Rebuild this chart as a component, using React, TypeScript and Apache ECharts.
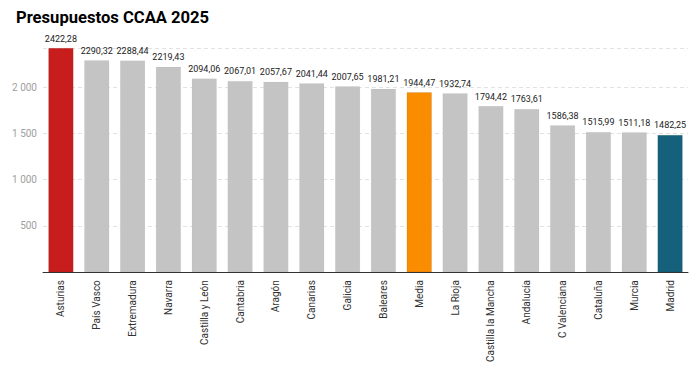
import React, { useEffect, useRef } from "react";
import * as echarts from "echarts";

const categories = [
  "Asturias", "País Vasco", "Extremadura", "Navarra", "Castilla y León", "Cantabria",
  "Aragón", "Canarias", "Galicia", "Baleares", "Media", "La Rioja",
  "Castilla la Mancha", "Andalucía", "C Valenciana", "Cataluña", "Murcia", "Madrid",
];
const values = [
  2422.28, 2290.32, 2288.44, 2219.43, 2094.06, 2067.01, 2057.67, 2041.44, 2007.65,
  1981.21, 1944.47, 1932.74, 1794.42, 1763.61, 1586.38, 1515.99, 1511.18, 1482.25,
];
const highlight: Record<string, string> = {
  Asturias: "#c71e1d",
  Media: "#fa8c00",
  Madrid: "#15607a",
};
const baseColor = "#c4c4c4";
const yTicks = [500, 1000, 1500, 2000];

const fmtNum = (v: number) => {
  const s = v.toFixed(0);
  return s.replace(/\B(?=(\d{3})+(?!\d))/g, " ");
};
const fmtVal = (v: number) => v.toFixed(2).replace(".", ",");

export default function App() {
  const ref = useRef<HTMLDivElement>(null);
  useEffect(() => {
    if (!ref.current) return;
    const chart = echarts.init(ref.current, undefined, { renderer: "svg" });
    chart.setOption({
      animation: false,
      title: {
        text: "Presupuestos CCAA 2025",
        left: 8,
        top: 1,
        padding: 0,
        textStyle: {
          fontFamily: "Roboto",
          fontWeight: "bold",
          fontSize: 16.6,
          color: "#000",
        },
      },
      grid: { left: 35, right: 4, top: 40, bottom: 92, containLabel: false },
      xAxis: {
        type: "category",
        data: categories,
        axisLine: { lineStyle: { color: "#333", width: 1 } },
        axisTick: { alignWithLabel: true, length: 3, lineStyle: { color: "#333" } },
        axisLabel: {
          rotate: 90,
          interval: 0,
          fontFamily: "Roboto",
          fontSize: 10,
          color: "#333",
          margin: 8,
        },
      },
      yAxis: {
        type: "value",
        min: 0,
        max: 2422.28,
        interval: 500,
        axisLine: { show: false },
        axisTick: { show: false },
        splitLine: {
          lineStyle: { color: "#e2e2e2", type: [4, 3], width: 1 },
        },
        axisLabel: {
          fontFamily: "Roboto",
          fontSize: 10,
          color: "#a0a0a0",
          margin: 6,
          formatter: (v: number) => (yTicks.includes(v) ? fmtNum(v) : ""),
        },
      },
      series: [
        {
          type: "bar",
          barCategoryGap: "30%",
          data: categories.map((c, i) => ({
            value: values[i],
            itemStyle: {
              color: highlight[c] || baseColor,
              borderColor: highlight[c] ? "rgba(0,0,0,0.15)" : "rgba(0,0,0,0.05)",
              borderWidth: 0.5,
            },
          })),
          label: {
            show: true,
            position: "top",
            distance: 5,
            fontFamily: "Roboto",
            fontSize: 9,
            color: "#222",
            formatter: (p: any) => fmtVal(p.value),
          },
        },
      ],
    });
    return () => chart.dispose();
  }, []);
  return <div ref={ref} style={{ width: 684, height: 357 }} />;
}
